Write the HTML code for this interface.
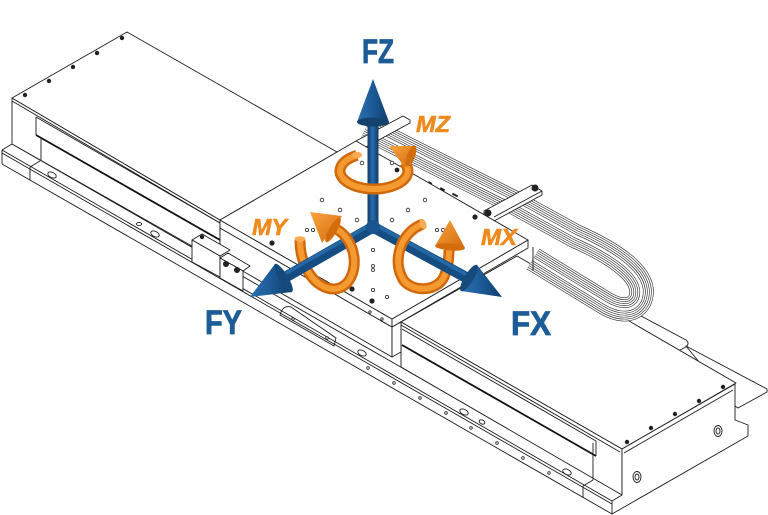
<!DOCTYPE html>
<html><head><meta charset="utf-8"><style>
html,body{margin:0;padding:0;background:#fff;}
svg{display:block;}
.l{stroke:#1c1c1c;stroke-width:0.9;fill:none;}
.f{stroke:#1c1c1c;stroke-width:0.9;fill:#fff;stroke-linejoin:round;}
.k{stroke:#111;stroke-width:1.8;fill:none;}
.o1{stroke:#d0680a;stroke-width:11;fill:none;stroke-linecap:butt;}
.o2{stroke:#f59a30;stroke-width:6;fill:none;stroke-linecap:butt;}
.b1{stroke:#154c82;stroke-width:11;}
.b2{stroke:#2469a6;stroke-width:3.5;}
.bt{font-family:"Liberation Sans",sans-serif;font-weight:bold;fill:#1d5c97;stroke:#1d5c97;stroke-width:0.8;}
.ot{font-family:"Liberation Sans",sans-serif;font-weight:bold;font-style:italic;fill:#ef8a1c;stroke:#ef8a1c;stroke-width:0.6;}
.rb{fill:none;stroke-linejoin:round;stroke-linecap:butt;}
</style></head><body>
<svg width="768" height="515" viewBox="0 0 768 515" xmlns="http://www.w3.org/2000/svg">
<defs>
<linearGradient id="gv" x1="0" y1="0" x2="1" y2="0">
<stop offset="0" stop-color="#0f3c69"/><stop offset="0.45" stop-color="#2a6dab"/><stop offset="1" stop-color="#0f3c69"/>
</linearGradient>
<linearGradient id="gc" x1="0" y1="0" x2="1" y2="0">
<stop offset="0" stop-color="#2b70b0"/><stop offset="0.5" stop-color="#1c5a96"/><stop offset="1" stop-color="#0f3d6a"/>
</linearGradient>
<linearGradient id="go" x1="0" y1="0" x2="1" y2="1">
<stop offset="0" stop-color="#f8a440"/><stop offset="1" stop-color="#d46a0a"/>
</linearGradient>
</defs>
<rect width="768" height="515" fill="#fff"/>

<!-- ===== BASE ===== -->
<line class="l" x1="12" y1="144" x2="622" y2="494"/>
<line class="l" x1="2" y1="150" x2="612" y2="501"/>
<line class="l" x1="2" y1="153" x2="612" y2="504"/>
<line class="l" x1="2" y1="164" x2="612" y2="514"/>
<line class="l" x1="2" y1="150" x2="2" y2="164"/>
<line class="l" x1="2" y1="150" x2="12" y2="144"/>
<line class="l" x1="30" y1="167" x2="30" y2="180"/>
<line class="l" x1="30" y1="167" x2="40" y2="161"/>
<line class="l" x1="583" y1="486" x2="583" y2="498"/>
<line class="l" x1="583" y1="486" x2="593" y2="480"/>
<g class="l">
<ellipse cx="52" cy="175" rx="4.5" ry="2.6" transform="rotate(25 52 175)"/>
<ellipse cx="139" cy="224" rx="2.5" ry="1.6"/>
<ellipse cx="155" cy="234" rx="4.5" ry="2.6" transform="rotate(25 155 234)"/>
<ellipse cx="362" cy="353" rx="4.5" ry="2.6" transform="rotate(25 362 353)"/>
<ellipse cx="464" cy="412" rx="4.5" ry="2.6" transform="rotate(25 464 412)"/>
<ellipse cx="482" cy="422" rx="3" ry="2" transform="rotate(25 482 422)"/>
<ellipse cx="567" cy="472" rx="4.5" ry="2.6" transform="rotate(25 567 472)"/>
<path d="M281 312 Q284 305 291 307 L336 338 L334 346 L280 315 Z"/>
</g>
<g fill="#fff" stroke="#222" stroke-width="0.8">
<circle cx="293" cy="319" r="1.3"/><circle cx="327" cy="338" r="1.3"/>
<circle cx="368" cy="368" r="1.3"/><circle cx="394" cy="383" r="1.3"/>
<circle cx="420" cy="398" r="1.3"/><circle cx="446" cy="413" r="1.3"/>
<circle cx="471" cy="428" r="1.3"/><circle cx="497" cy="443" r="1.3"/>
<circle cx="523" cy="458" r="1.3"/><circle cx="549" cy="473" r="1.3"/>
</g>

<!-- ===== BACK BLOCK ===== -->
<polygon class="f" points="12,98 220,220 220,262 12,144"/>
<polygon class="f" points="12,98 127,32 337,152 220,220"/>
<line class="l" x1="12" y1="101" x2="220" y2="223"/>
<line class="l" x1="36" y1="117" x2="220" y2="223"/>
<line class="l" x1="36" y1="117" x2="36" y2="135"/>
<line class="k" x1="36" y1="135" x2="220" y2="240"/>
<line class="l" x1="41" y1="138" x2="41" y2="161"/>
<g fill="#222">
<circle cx="25" cy="95" r="2.2"/><circle cx="49" cy="81" r="2.2"/>
<circle cx="73" cy="67" r="2.2"/><circle cx="97" cy="53" r="2.2"/><circle cx="122" cy="38" r="2.2"/>
</g>

<!-- ===== FRONT BLOCK ===== -->
<polygon class="f" points="686,346 767,389 767,392 738,408 735,406"/>
<line class="l" x1="598" y1="293" x2="686" y2="340"/>
<path class="l" d="M686 340 Q691 344 684 348 L678 351"/>
<polygon class="f" points="401,322 517,256 736,383 622,449"/>
<polygon class="f" points="401,322 622,449 622,495 401,367"/>
<polygon class="f" points="622,449 735,384 735,420 748,425 748,436 612,514 612,501 622,495"/>
<line class="l" x1="624" y1="453" x2="733" y2="390"/>
<line class="l" x1="401" y1="325" x2="620" y2="452"/>
<line class="l" x1="402" y1="329" x2="596" y2="441"/>
<line class="k" x1="402" y1="345" x2="596" y2="456"/>
<line class="l" x1="596" y1="441" x2="596" y2="456"/>
<line class="l" x1="593" y1="443" x2="593" y2="480"/>
<g fill="#222">
<circle cx="627" cy="442" r="2.2"/><circle cx="651" cy="428" r="2.2"/>
<circle cx="675" cy="414" r="2.2"/><circle cx="699" cy="401" r="2.2"/><circle cx="723" cy="387" r="2.2"/>
</g>
<g class="l">
<ellipse cx="637" cy="477" rx="4" ry="5.5"/><ellipse cx="637" cy="477" rx="2" ry="3"/>
<ellipse cx="718" cy="431" rx="4" ry="5.5"/><ellipse cx="718" cy="431" rx="2" ry="3"/>
</g>

<!-- ===== CABLE ===== -->
<g class="rb">
<path d="M366 128 L515 203 L575 236 C625 258 648 280 640 300 C634 312 620 312 605 303 L533 259" stroke="#222" stroke-width="24"/>
<path d="M366 128 L515 203 L575 236 C625 258 648 280 640 300 C634 312 620 312 605 303 L533 259" stroke="#fff" stroke-width="22.8"/>
<path d="M366 128 L515 203 L575 236 C625 258 648 280 640 300 C634 312 620 312 605 303 L533 259" stroke="#222" stroke-width="20"/>
<path d="M366 128 L515 203 L575 236 C625 258 648 280 640 300 C634 312 620 312 605 303 L533 259" stroke="#fff" stroke-width="18.8"/>
<path d="M366 128 L515 203 L575 236 C625 258 648 280 640 300 C634 312 620 312 605 303 L533 259" stroke="#222" stroke-width="16"/>
<path d="M366 128 L515 203 L575 236 C625 258 648 280 640 300 C634 312 620 312 605 303 L533 259" stroke="#fff" stroke-width="14.8"/>
<path d="M366 128 L515 203 L575 236 C625 258 648 280 640 300 C634 312 620 312 605 303 L533 259" stroke="#222" stroke-width="12"/>
<path d="M366 128 L515 203 L575 236 C625 258 648 280 640 300 C634 312 620 312 605 303 L533 259" stroke="#fff" stroke-width="10.8"/>
<path d="M366 128 L515 203 L575 236 C625 258 648 280 640 300 C634 312 620 312 605 303 L533 259" stroke="#222" stroke-width="8"/>
<path d="M366 128 L515 203 L575 236 C625 258 648 280 640 300 C634 312 620 312 605 303 L533 259" stroke="#fff" stroke-width="6.8"/>
<path d="M366 128 L515 203 L575 236 C625 258 648 280 640 300 C634 312 620 312 605 303 L533 259" stroke="#222" stroke-width="4"/>
<path d="M366 128 L515 203 L575 236 C625 258 648 280 640 300 C634 312 620 312 605 303 L533 259" stroke="#fff" stroke-width="2.8"/>
</g>
<line class="l" x1="533" y1="247" x2="533" y2="271"/>
<!-- clamps -->
<polygon class="f" points="484,211 532,185 542,191 542,195 494,221 484,215"/>
<line class="l" x1="494" y1="217" x2="542" y2="191"/>
<circle cx="488" cy="213" r="3.5" fill="#222"/><circle cx="535" cy="188" r="3.5" fill="#222"/>
<polygon class="f" points="356,141 403,116 410,120 410,123 364,148 356,145"/>
<g fill="#222">
<rect x="428" y="182" width="4" height="2" transform="rotate(28 430 183)"/>
<rect x="440" y="188" width="5" height="2" transform="rotate(28 442 189)"/>
<rect x="452" y="194" width="6" height="2" transform="rotate(28 455 195)"/>
</g>

<!-- ===== CARRIAGE ===== -->
<polygon class="f" points="220,228 392,327 392,357 220,258"/>
<polygon class="f" points="392,327 401,322 401,352 392,357"/>
<polygon class="f" points="220,220 392,319 392,327 220,228"/>
<polygon class="f" points="392,319 528,240 528,248 392,327"/>
<polygon class="f" points="220,220 356,141 528,240 392,319"/>
<!-- bracket -->
<polygon class="f" points="192,240 202,234 230,250 220,256"/>
<polygon class="f" points="192,240 220,256 220,277 192,262"/>
<polygon class="f" points="220,258 228,253 250,266 243,271"/>
<polygon class="f" points="220,258 243,271 243,291 220,278"/>
<circle cx="226" cy="264" r="3" fill="#222"/><circle cx="237" cy="270" r="3" fill="#222"/>
<circle cx="202" cy="237" r="2.2" fill="#222"/>
<g fill="#fff" stroke="#222" stroke-width="0.8">
<circle cx="362" cy="163" r="1.8"/><circle cx="392" cy="163" r="1.8"/>
<circle cx="322" cy="200" r="1.8"/><circle cx="340" cy="210" r="1.8"/>
<circle cx="357" cy="220" r="1.8"/><circle cx="392" cy="220" r="1.8"/>
<circle cx="408" cy="210" r="1.8"/><circle cx="425" cy="200" r="1.8"/>
<circle cx="307" cy="230" r="1.6"/><circle cx="313" cy="230" r="1.6"/>
<circle cx="437" cy="230" r="1.6"/><circle cx="443" cy="230" r="1.6"/>
<circle cx="373" cy="250" r="1.6"/><circle cx="373" cy="266" r="1.5"/><circle cx="373" cy="270" r="1.5"/>
<circle cx="373" cy="290" r="1.6"/><circle cx="387" cy="297" r="1.6"/>
<circle cx="370" cy="312" r="1.2"/><circle cx="382" cy="319" r="1.2"/>
</g>
<g fill="#222">
<circle cx="272" cy="243" r="2.6"/><circle cx="352" cy="289" r="2.6"/>
<circle cx="372" cy="301" r="2.6"/><circle cx="475" cy="217" r="2.6"/><circle cx="397" cy="170" r="2.4"/>
</g>

<!-- ===== ORANGE (behind blue) ===== -->
<g>
<path class="o1" d="M300 240 C300 268 316 289 334 289"/>
<path class="o2" d="M300 240 C300 268 316 289 334 289"/>
<path class="o1" d="M402 278 C410 292 436 293 444 277 C448 268 449 260 449 250"/>
<path class="o2" d="M402 278 C410 292 436 293 444 277 C448 268 449 260 449 250"/>
<polygon points="450,220 435,246 465,248" fill="url(#go)"/>
<ellipse cx="450" cy="247" rx="15" ry="3.5" transform="rotate(5 450 247)" fill="#d56c0c"/>
<ellipse cx="300" cy="239" rx="5.5" ry="2.8" fill="#f7ac55"/>
</g>

<!-- ===== BLUE AXES ===== -->
<line class="b1" x1="373" y1="227" x2="284" y2="278"/>
<line class="b2" x1="372" y1="224" x2="283" y2="275"/>
<line class="b1" x1="373" y1="227" x2="469" y2="279"/>
<line class="b2" x1="374" y1="224" x2="469" y2="276"/>
<rect x="367.5" y="119" width="11" height="110" fill="url(#gv)"/>
<circle cx="373" cy="227" r="7" fill="#1a5590"/>
<polygon points="373,79 357,122 389,122" fill="url(#gc)"/>
<ellipse cx="373" cy="122" rx="16" ry="4.5" fill="#14436f"/>
<polygon points="250,297 275,264 292,292" fill="url(#gc)"/>
<ellipse cx="283.5" cy="278" rx="16.4" ry="4.5" transform="rotate(58.7 283.5 278)" fill="#174a7c"/>
<polygon points="502,297 461,291 477,265" fill="url(#gc)"/>
<ellipse cx="469" cy="278" rx="15.3" ry="4.5" transform="rotate(-58.4 469 278)" fill="#174a7c"/>

<!-- ===== ORANGE (front) ===== -->
<path class="o1" d="M357 155.4 A34 18 0 1 0 403.4 162"/>
<path class="o2" d="M357 155.4 A34 18 0 1 0 403.4 162"/>
<ellipse cx="357" cy="155" rx="5" ry="3.2" fill="#f7ac55"/>
<polygon points="389,146 416,146 405,168" fill="url(#go)"/>
<ellipse cx="411" cy="156" rx="4" ry="11" transform="rotate(20 411 156)" fill="#d56c0c"/>

<path class="o1" d="M333 289 C352 289 359 264 351 246 C347 237 342 232 336 229"/>
<path class="o2" d="M333 289 C352 289 359 264 351 246 C347 237 342 232 336 229"/>
<polygon points="310,212 342,216 322,243" fill="url(#go)"/>
<ellipse cx="333" cy="230" rx="14" ry="4" transform="rotate(-60 333 230)" fill="#d56c0c"/>

<path class="o1" d="M423 224 C400 232 392 262 403 279"/>
<path class="o2" d="M423 224 C400 232 392 262 403 279"/>
<ellipse cx="423" cy="224" rx="3.2" ry="5.5" transform="rotate(-20 423 224)" fill="#f7ac55"/>

<!-- ===== LABELS ===== -->
<text class="bt" x="362" y="63" font-size="34" textLength="32" lengthAdjust="spacingAndGlyphs">FZ</text>
<text class="bt" x="205" y="334" font-size="34" textLength="37" lengthAdjust="spacingAndGlyphs">FY</text>
<text class="bt" x="511" y="335" font-size="34" textLength="40" lengthAdjust="spacingAndGlyphs">FX</text>
<text class="ot" x="416" y="132" font-size="23" textLength="34" lengthAdjust="spacingAndGlyphs">MZ</text>
<text class="ot" x="252" y="235" font-size="23" textLength="35" lengthAdjust="spacingAndGlyphs">MY</text>
<text class="ot" x="481" y="245" font-size="23" textLength="36" lengthAdjust="spacingAndGlyphs">MX</text>
</svg>
</body></html>
